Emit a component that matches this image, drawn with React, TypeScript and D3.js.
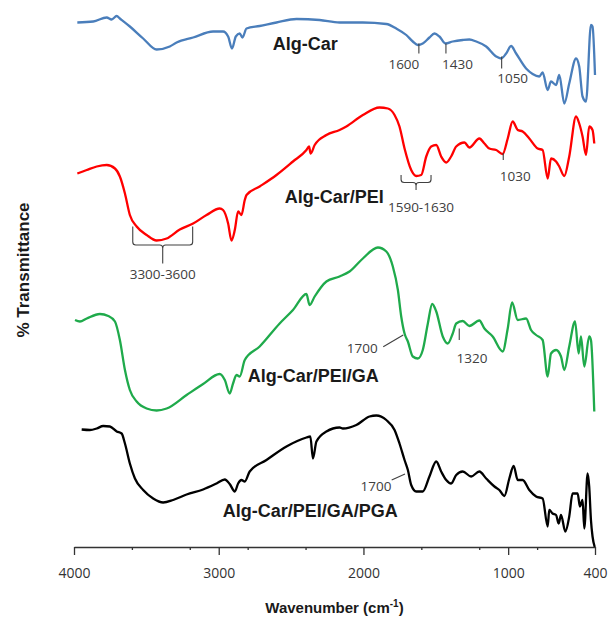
import React, { useEffect, useRef } from 'react';
import * as d3 from 'd3';

const W = 608;
const H = 625;

// x axis ticks (wavenumber, cm-1)
const majorTicks = [4000, 3000, 2000, 1000, 400];
const minorTicks = [3600, 3200, 2800, 2400, 1600, 1200, 800];

// spectra: [wavenumber, transmittance (arbitrary, stacked)]
const algCar: [number, number][] = [
  [3977, 104.9], [3867, 105.1], [3774, 105.9], [3740, 105.5], [3705, 106.2], [3683, 105.7],
  [3614, 104.1], [3522, 101.7], [3429, 99.5], [3338, 100.1], [3291, 100.9], [3177, 101.9],
  [3039, 103.1], [2970, 103.1], [2935, 102.1], [2908, 99.7], [2882, 102.1], [2855, 102.7],
  [2836, 101.9], [2808, 103.7], [2717, 104.2], [2601, 104.9], [2463, 105.6], [2303, 105.4],
  [2165, 104.9], [2004, 104.9], [1842, 104.6], [1773, 103.7], [1704, 102.4], [1659, 101.1],
  [1624, 100.4], [1590, 100.7], [1544, 101.9], [1509, 102.7], [1475, 102.1], [1433, 100.7],
  [1383, 101.1], [1314, 101.4], [1268, 101.5], [1221, 101.1], [1152, 100.1], [1083, 98.1],
  [1049, 97.7], [1014, 98.7], [980, 100.2], [945, 98.7], [876, 95.7], [831, 94.6],
  [785, 94.1], [762, 94.9], [727, 91.4], [704, 93.1], [669, 92.4], [647, 94.4],
  [612, 88.7], [578, 92.7], [531, 97.7], [509, 96.1], [486, 90.1], [462, 89.1],
  [428, 104.4], [417, 104.1], [400, 94.4],
];

const algCarPei: [number, number][] = [
  [3977, 74.7], [3912, 75.4], [3843, 76.1], [3774, 76.4], [3717, 75.7], [3683, 74.1],
  [3648, 70.7], [3614, 66.4], [3567, 64.1], [3498, 62.4], [3429, 61.3], [3360, 61.7],
  [3269, 63.5], [3177, 64.7], [3084, 66.4], [2993, 67.7], [2970, 67.4], [2935, 64.7],
  [2912, 61.3], [2889, 63.4], [2866, 67.1], [2843, 66.4], [2820, 69.4], [2808, 70.4],
  [2717, 72.1], [2601, 74.4], [2487, 77.1], [2394, 79.4], [2376, 80.1], [2365, 78.7],
  [2337, 80.4], [2256, 82.4], [2165, 83.4], [2118, 84.1], [2004, 86.4], [1889, 87.9],
  [1831, 87.7], [1785, 86.4], [1751, 84.1], [1716, 79.7], [1670, 75.4], [1635, 74.2],
  [1601, 74.4], [1566, 78.1], [1532, 80.1], [1497, 80.4], [1463, 78.1], [1428, 76.9],
  [1394, 78.1], [1359, 80.1], [1302, 80.9], [1268, 79.9], [1199, 81.7], [1164, 80.7],
  [1130, 79.7], [1083, 79.4], [1038, 78.6], [1003, 81.7], [969, 85.1], [934, 83.4],
  [900, 83.1], [854, 81.7], [796, 79.7], [762, 79.4], [727, 73.7], [704, 77.7],
  [669, 77.1], [647, 76.1], [612, 74.2], [578, 78.1], [531, 86.1], [509, 84.7],
  [486, 82.1], [462, 78.4], [440, 84.1], [417, 83.4], [405, 80.7],
];

const algCarPeiGa: [number, number][] = [
  [3993, 45.4], [3959, 45.1], [3912, 45.7], [3821, 46.6], [3763, 46.2], [3717, 45.1],
  [3683, 41.4], [3648, 35.4], [3614, 31.4], [3567, 29.1], [3498, 27.7], [3429, 27.3],
  [3360, 27.7], [3222, 30.4], [3108, 32.6], [2993, 34.6], [2958, 33.4], [2924, 30.7],
  [2901, 32.7], [2877, 34.4], [2855, 34.1], [2820, 37.4], [2717, 40.1], [2579, 44.7],
  [2487, 47.4], [2394, 50.6], [2372, 48.4], [2337, 50.1], [2256, 53.1], [2165, 54.1],
  [2096, 55.1], [2004, 57.7], [1900, 59.9], [1842, 59.1], [1797, 56.1], [1762, 51.4],
  [1739, 46.1], [1716, 42.7], [1693, 41.1], [1659, 38.1], [1624, 37.7], [1590, 39.4],
  [1555, 44.7], [1525, 48.6], [1497, 47.1], [1452, 42.1], [1417, 40.7], [1383, 42.7],
  [1359, 44.7], [1314, 45.2], [1268, 44.2], [1199, 45.3], [1164, 43.7], [1107, 42.1],
  [1038, 39.1], [1003, 43.7], [973, 48.9], [934, 45.4], [876, 45.7], [842, 43.4],
  [807, 42.4], [762, 41.4], [727, 34.1], [704, 38.7], [669, 39.4], [635, 38.1],
  [612, 35.4], [578, 40.1], [538, 45.1], [513, 38.7], [497, 42.1], [474, 36.1],
  [440, 42.1], [428, 41.4], [405, 27.1],
];

const algCarPeiGaPga: [number, number][] = [
  [3947, 23.5], [3890, 23.4], [3843, 23.7], [3798, 24.2], [3752, 24.1], [3705, 23.1],
  [3671, 22.7], [3648, 20.7], [3614, 16.7], [3579, 13.7], [3522, 11.4], [3453, 9.7],
  [3384, 8.9], [3315, 9.4], [3222, 10.5], [3108, 11.5], [3015, 12.7], [2958, 13.5],
  [2924, 12.6], [2889, 11.1], [2866, 12.7], [2843, 13.4], [2820, 13.1], [2786, 15.1],
  [2670, 17.4], [2532, 20.1], [2394, 21.9], [2367, 22.1], [2349, 17.7], [2325, 21.1],
  [2256, 23.1], [2165, 23.9], [2142, 23.7], [2049, 24.4], [1958, 26.1], [1911, 26.3],
  [1842, 25.4], [1785, 23.4], [1751, 20.7], [1716, 17.4], [1693, 15.4], [1670, 12.4],
  [1635, 11.1], [1590, 11.1], [1544, 14.1], [1497, 17.1], [1463, 15.1], [1428, 13.4],
  [1394, 12.7], [1359, 14.4], [1314, 15.1], [1256, 14.1], [1199, 15.1], [1152, 13.7],
  [1095, 12.1], [1061, 11.4], [1026, 10.2], [992, 13.7], [962, 16.2], [934, 13.4],
  [900, 13.4], [854, 11.4], [807, 10.1], [762, 9.7], [727, 4.1], [716, 7.4],
  [693, 6.7], [669, 6.4], [651, 4.7], [635, 6.4], [605, 3.1], [578, 6.1],
  [555, 10.7], [520, 10.7], [504, 8.1], [486, 9.4], [474, 3.7], [451, 14.7],
  [440, 12.1], [428, 5.4], [417, 2.1], [402, 0],
];

const seriesData = [algCar, algCarPei, algCarPeiGa, algCarPeiGaPga];
const seriesNames = ['Alg-Car', 'Alg-Car/PEI', 'Alg-Car/PEI/GA', 'Alg-Car/PEI/GA/PGA'];
const seriesColors = ['#4a7ebb', '#ff0000', '#1faa4b', '#000000'];
// where each series name starts: [wavenumber, value]
const namePos: [number, number][] = [[2627, 99.5], [2544, 68.9], [2799, 33.1], [2972, 6.1]];

// short vertical markers under a band
const peakMarks = [
  { label: '1600', w: 1617, v1: 100.7, v2: 98.7, dx: -15, dy: 15 },
  { label: '1430', w: 1430, v1: 100.7, v2: 98.7, dx: 11.5, dy: 15 },
  { label: '1050', w: 1045, v1: 98.1, v2: 95.7, dx: 11, dy: 14 },
  { label: '1030', w: 1034, v1: 78.8, v2: 77.4, dx: 12, dy: 21 },
  { label: '1320', w: 1338, v1: 43.7, v2: 41.4, dx: 12.7, dy: 23 },
];
// slanted leader lines
const leaderMarks = [
  { label: '1700', w: 1725, v: 42.4, ex: -20, ey: 11.7, dx: -41, dy: 18 },
  { label: '1700', w: 1713, v: 14.6, ex: -13.3, ey: 6, dx: -29, dy: 17 },
];
// curly brackets over a range
const bracketMarks = [
  { label: '3300-3600', w1: 3594, w2: 3180, top: 64.1, bar: 60.4, tip: 56.7, dx: 0, dy: 15 },
  { label: '1590-1630', w1: 1740, w2: 1533, top: 74.4, bar: 72.9, tip: 71.4, dx: 5, dy: 22 },
];

export default function App() {
  const svgRef = useRef<SVGSVGElement>(null);

  useEffect(() => {
    const svg = d3.select(svgRef.current);
    svg.selectAll('*').remove();

    const x = d3.scaleLinear().domain([4000, 400]).range([74, 595]);
    const y = d3.scaleLinear().domain([0, 110]).range([547, -3]);
    const axisY = 547;

    const numFont = "'Open Sans', 'Liberation Sans', sans-serif";
    const boldFont = "'Liberation Sans', Arial, sans-serif";
    const markColor = '#404040';

    // x axis
    const gx = svg.append('g').attr('transform', `translate(0, ${axisY})`);
    gx.call(d3.axisBottom(x).tickValues(minorTicks).tickSize(3).tickSizeOuter(0).tickFormat(() => ''));
    gx.selectAll('path, line').attr('stroke', '#333').attr('stroke-width', 1.3);

    const gx2 = svg.append('g').attr('transform', `translate(0, ${axisY})`);
    gx2.call(
      d3.axisBottom(x).tickValues(majorTicks).tickSize(8).tickSizeOuter(0).tickPadding(13).tickFormat(d3.format('d'))
    );
    gx2.select('.domain').remove();
    gx2.selectAll('line').attr('stroke', '#333').attr('stroke-width', 1.3);
    gx2
      .selectAll('text')
      .attr('fill', '#333')
      .style('font-family', numFont)
      .style('font-size', '14px');

    // spectra
    const line = d3
      .line<[number, number]>()
      .x((d) => x(d[0]))
      .y((d) => y(d[1]))
      .curve(d3.curveMonotoneX);

    seriesData.forEach((data, i) => {
      svg
        .append('path')
        .datum(data)
        .attr('fill', 'none')
        .attr('stroke', seriesColors[i])
        .attr('stroke-width', 2.3)
        .attr('stroke-linejoin', 'round')
        .attr('d', line);
    });

    // series names
    seriesNames.forEach((name, i) => {
      svg
        .append('text')
        .attr('x', x(namePos[i][0]))
        .attr('y', y(namePos[i][1]))
        .attr('fill', '#1a1a1a')
        .style('font-family', boldFont)
        .style('font-weight', 'bold')
        .style('font-size', '18px')
        .text(name);
    });

    const ann = svg.append('g').attr('fill', 'none').attr('stroke', markColor).attr('stroke-width', 1.1);
    const annText = svg
      .append('g')
      .attr('fill', markColor)
      .attr('text-anchor', 'middle')
      .style('font-family', numFont)
      .style('font-size', '13.5px');

    peakMarks.forEach((m) => {
      ann
        .append('line')
        .attr('x1', x(m.w))
        .attr('x2', x(m.w))
        .attr('y1', y(m.v1))
        .attr('y2', y(m.v2));
      annText
        .append('text')
        .attr('x', x(m.w) + m.dx)
        .attr('y', y(m.v2) + m.dy)
        .text(m.label);
    });

    leaderMarks.forEach((m) => {
      ann
        .append('line')
        .attr('x1', x(m.w))
        .attr('y1', y(m.v))
        .attr('x2', x(m.w) + m.ex)
        .attr('y2', y(m.v) + m.ey);
      annText
        .append('text')
        .attr('x', x(m.w) + m.dx)
        .attr('y', y(m.v) + m.dy)
        .text(m.label);
    });

    bracketMarks.forEach((b) => {
      const xl = x(b.w1);
      const xr = x(b.w2);
      const xc = (xl + xr) / 2;
      const yt = y(b.top);
      const yb = y(b.bar);
      const yp = y(b.tip);
      const r = 3;
      const p = d3.path();
      p.moveTo(xl, yt);
      p.lineTo(xl, yb - r);
      p.quadraticCurveTo(xl, yb, xl + r, yb);
      p.lineTo(xc - r, yb);
      p.quadraticCurveTo(xc, yb, xc, yb + r);
      p.lineTo(xc, yp);
      p.moveTo(xc, yb + r);
      p.quadraticCurveTo(xc, yb, xc + r, yb);
      p.lineTo(xr - r, yb);
      p.quadraticCurveTo(xr, yb, xr, yb - r);
      p.lineTo(xr, yt);
      ann.append('path').attr('d', p.toString());
      annText
        .append('text')
        .attr('x', xc + b.dx)
        .attr('y', yp + b.dy)
        .text(b.label);
    });

    // axis titles
    const xt = svg
      .append('text')
      .attr('x', (x(4000) + x(400)) / 2)
      .attr('y', 613)
      .attr('text-anchor', 'middle')
      .attr('fill', '#1a1a1a')
      .style('font-family', boldFont)
      .style('font-weight', 'bold')
      .style('font-size', '15px');
    xt.append('tspan').text('Wavenumber (cm');
    xt.append('tspan').attr('dy', -6).style('font-size', '10px').text('-1');
    xt.append('tspan').attr('dy', 6).text(')');

    svg
      .append('text')
      .attr('transform', `translate(29, 270) rotate(-90)`)
      .attr('text-anchor', 'middle')
      .attr('fill', '#1a1a1a')
      .style('font-family', boldFont)
      .style('font-weight', 'bold')
      .style('font-size', '17px')
      .text('% Transmittance');
  }, []);

  return (
    <svg
      ref={svgRef}
      width={W}
      height={H}
      style={{ position: 'absolute', left: 0, top: 0, background: '#fff' }}
    />
  );
}
